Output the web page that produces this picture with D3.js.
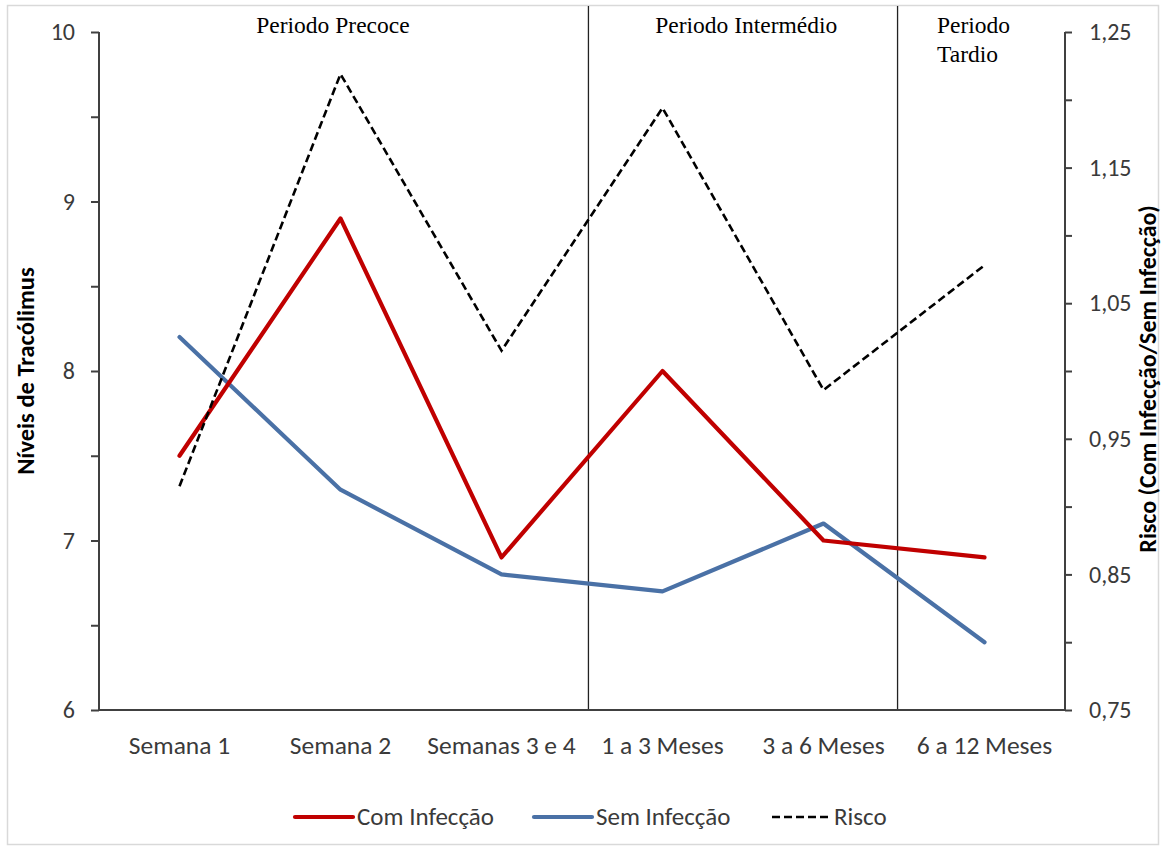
<!DOCTYPE html>
<html><head><meta charset="utf-8">
<script src="https://cdn.jsdelivr.net/npm/d3@7"></script>
<style>body{margin:0;background:#fff}</style>
</head><body><svg id="c" width="1164" height="850"></svg>
<script>
const categories = ["Semana 1","Semana 2","Semanas 3 e 4","1 a 3 Meses","3 a 6 Meses","6 a 12 Meses"];
const comInfeccao = [7.5, 8.9, 6.9, 8.0, 7.0, 6.9];
const semInfeccao = [8.2, 7.3, 6.8, 6.7, 7.1, 6.4];
const risco = [0.915, 1.219, 1.015, 1.194, 0.986, 1.078];
const leftTickValues = [6, 6.5, 7, 7.5, 8, 8.5, 9, 9.5, 10];
const rightTickValues = [0.75, 0.80, 0.85, 0.90, 0.95, 1.00, 1.05, 1.10, 1.15, 1.20, 1.25];
const rightLabelled = [0.75, 0.85, 0.95, 1.05, 1.15, 1.25];
const periodLabels = [["Periodo Precoce"], ["Periodo Intermédio"], ["Periodo", "Tardio"]];
const periodDividers = [2.54, 4.46];
const seriesNames = ["Com Infecção", "Sem Infecção", "Risco"];
const leftTitle = "Níveis de Tracólimus";
const rightTitle = "Risco (Com Infecção/Sem Infecção)";

const svg = d3.select("#c");
const L = 99, R = 1065, T = 32, B = 710;
const sansFont = "Carlito, Lato, sans-serif";
const axisColor = "#404040";
const textColor = "#3a3a3a";

svg.append("rect").attr("x", 7.5).attr("y", 5.5).attr("width", 1151).attr("height", 839)
  .attr("fill", "#fff").attr("stroke", "#d9d9d9").attr("stroke-width", 1.5);

const xb = d3.scaleBand().domain(categories).range([L, R]).padding(0);
const xi = d3.scaleLinear().domain([-0.5, categories.length - 0.5]).range([L, R]);
const yL = d3.scaleLinear().domain([6, 10]).range([B, T]);
const yR = d3.scaleLinear().domain([0.75, 1.25]).range([B, T]);

// dividers
svg.selectAll(".div").data(periodDividers).enter().append("line")
  .attr("x1", d => xi(d)).attr("x2", d => xi(d)).attr("y1", 6).attr("y2", B)
  .attr("stroke", "#222").attr("stroke-width", 1.3);

// period labels
const serif = "'Liberation Serif', 'Times New Roman', serif";
const pl = svg.append("g").attr("font-family", serif).attr("font-size", 23.5).attr("fill", "#000");
pl.append("text").attr("x", xi(0.953)).attr("y", 33).attr("text-anchor", "middle").text(periodLabels[0][0]);
pl.append("text").attr("x", xi(3.52)).attr("y", 33).attr("text-anchor", "middle").text(periodLabels[1][0]);
const tt = pl.append("text").attr("x", xi(4.705)).attr("y", 33).attr("text-anchor", "start");
periodLabels[2].forEach((s, i) => tt.append("tspan").attr("x", xi(4.705)).attr("dy", i === 0 ? 0 : 29).text(s));

// axes
const fmtComma = d => d3.format(".2f")(d).replace(".", ",");
const gl = svg.append("g").attr("transform", `translate(${L},0)`)
  .call(d3.axisLeft(yL).tickValues(leftTickValues).tickSize(8).tickPadding(16)
    .tickFormat(d => Number.isInteger(d) ? d : ""));
const gr = svg.append("g").attr("transform", `translate(${R},0)`)
  .call(d3.axisRight(yR).tickValues(rightTickValues).tickSize(7).tickPadding(17)
    .tickFormat(d => rightLabelled.some(v => Math.abs(v - d) < 1e-6) ? fmtComma(d) : ""));
const gb = svg.append("g").attr("transform", `translate(0,${B})`)
  .call(d3.axisBottom(xb).tickSize(0).tickPadding(26));
[gl, gr, gb].forEach(g => {
  g.select(".domain").attr("stroke", axisColor).attr("stroke-width", 2);
  g.selectAll(".tick line").attr("stroke", axisColor).attr("stroke-width", 2);
  g.selectAll("text").attr("font-family", sansFont).attr("font-size", 24).attr("fill", textColor);
});
gb.selectAll("text").attr("font-size", 25.5);
gl.select(".domain").attr("d", `M-0,${T}V${B}`);
gr.select(".domain").attr("d", `M0,${T}V${B}`);
gb.select(".domain").attr("d", `M${L},0H${R}`);

// titles
svg.append("text").attr("transform", `translate(34,${(T + B) / 2}) rotate(-90)`)
  .attr("text-anchor", "middle").attr("font-family", sansFont).attr("font-weight", "bold")
  .attr("font-size", 24.5).attr("fill", "#000").text(leftTitle);
svg.append("text").attr("transform", `translate(1156,${(T + B) / 2 + 8}) rotate(-90)`)
  .attr("text-anchor", "middle").attr("font-family", sansFont).attr("font-weight", "bold")
  .attr("font-size", 24).attr("fill", "#000").text(rightTitle);

// lines
const lineL = d3.line().x((d, i) => xi(i)).y(d => yL(d));
const lineR = d3.line().x((d, i) => xi(i)).y(d => yR(d));
const red = "#C00000", blue = "#4A71A6";
svg.append("path").attr("d", lineL(semInfeccao)).attr("fill", "none").attr("stroke", blue)
  .attr("stroke-width", 4.2).attr("stroke-linejoin", "round").attr("stroke-linecap", "round");
svg.append("path").attr("d", lineL(comInfeccao)).attr("fill", "none").attr("stroke", red)
  .attr("stroke-width", 4.2).attr("stroke-linejoin", "round").attr("stroke-linecap", "round");
svg.append("path").attr("d", lineR(risco)).attr("fill", "none").attr("stroke", "#000")
  .attr("stroke-width", 2.6).attr("stroke-dasharray", "8,4");

// legend
const legY = 817;
const leg = [
  {x: 295, color: red, w: 4.2, dash: null},
  {x: 534, color: blue, w: 4.2, dash: null},
  {x: 772, color: "#000", w: 2.6, dash: "8,4"}
];
leg.forEach((d, i) => {
  const g = svg.append("g");
  g.append("line").attr("x1", d.x).attr("x2", d.x + 58).attr("y1", legY).attr("y2", legY)
    .attr("stroke", d.color).attr("stroke-width", d.w).attr("stroke-dasharray", d.dash)
    .attr("stroke-linecap", d.dash ? "butt" : "round");
  g.append("text").attr("x", d.x + 62).attr("y", legY + 8).attr("font-family", sansFont)
    .attr("font-size", 25).attr("fill", textColor).text(seriesNames[i]);
});
</script></body></html>
